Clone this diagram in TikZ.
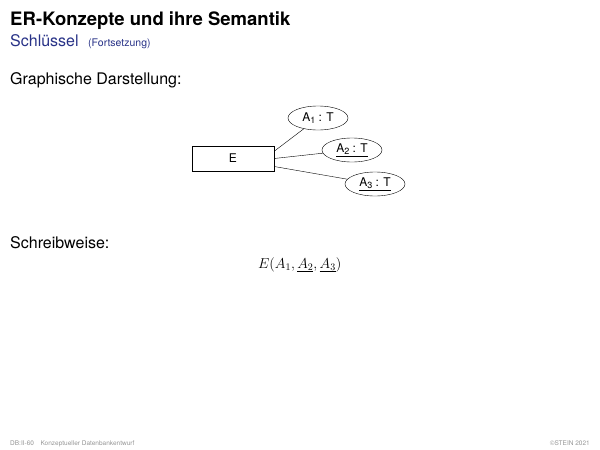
\documentclass[tikz,border=0pt]{standalone}
\usepackage{fontspec}
\setmainfont{TeX Gyre Heros}
\usetikzlibrary{shapes.geometric}
\definecolor{slideblue}{RGB}{40,50,135}
\definecolor{footgray}{RGB}{150,150,150}
\newcommand{\attrsub}[1]{\raisebox{-0.35ex}{\fontsize{9}{10}\selectfont #1}}

\tikzset{
  entity/.style={draw, minimum width=82pt, minimum height=25pt, font=\fontsize{12}{14}\selectfont},
  attr/.style={draw, ellipse, minimum width=60pt, minimum height=24pt, inner sep=1pt, font=\fontsize{12}{14}\selectfont},
  slidetext/.style={anchor=base west, inner sep=0pt}
}

\begin{document}
\begin{tikzpicture}[x=1pt,y=-1pt]
	\useasboundingbox (0,0) rectangle (600,450);
	
	% Kopf
	\node[slidetext, font=\bfseries\fontsize{18.5}{20}\selectfont] (title) at (10,25) {ER-Konzepte und ihre Semantik};
	\node[slidetext, text=slideblue, font=\fontsize{16}{18}\selectfont] (sub) at (10,46) {Schlüssel};
	\node[slidetext, text=slideblue, font=\fontsize{10.5}{12}\selectfont] (fort) at (88,46) {(Fortsetzung)};
	
	\node[slidetext, font=\fontsize{16}{18}\selectfont] (graph) at (10,84) {Graphische Darstellung:};
	
	% Diagramm
	\node[entity] (e) at (233,158.5) {E};
	\node[attr] (a1) at (318,118) {A\attrsub{1} : T};
	\node[attr] (a2) at (352,150) {\underline{A\attrsub{2} : T}};
	\node[attr] (a3) at (375,184) {\underline{A\attrsub{3} : T}};
	\draw (e.10) -- (a1);
	\draw (e.east) -- (a2);
	\draw (e.-11) -- (a3);
	
	\node[slidetext, font=\fontsize{16}{18}\selectfont] (schreib) at (10,248) {Schreibweise:};
	\node[slidetext, font=\fontsize{14.5}{17}\selectfont] (formel) at (258,268) {$E(A_1,\underline{A_2},\underline{A_3})$};
	
	% Fuss
	\node[slidetext, text=footgray, font=\fontsize{6.5}{8}\selectfont] (foot) at (10,445) {DB:II-60\quad Konzeptueller Datenbankentwurf};
	\node[anchor=base east, inner sep=0pt, text=footgray, font=\fontsize{6.5}{8}\selectfont] (copy) at (590,445) {\textcopyright STEIN 2021};
\end{tikzpicture}
\end{document}
